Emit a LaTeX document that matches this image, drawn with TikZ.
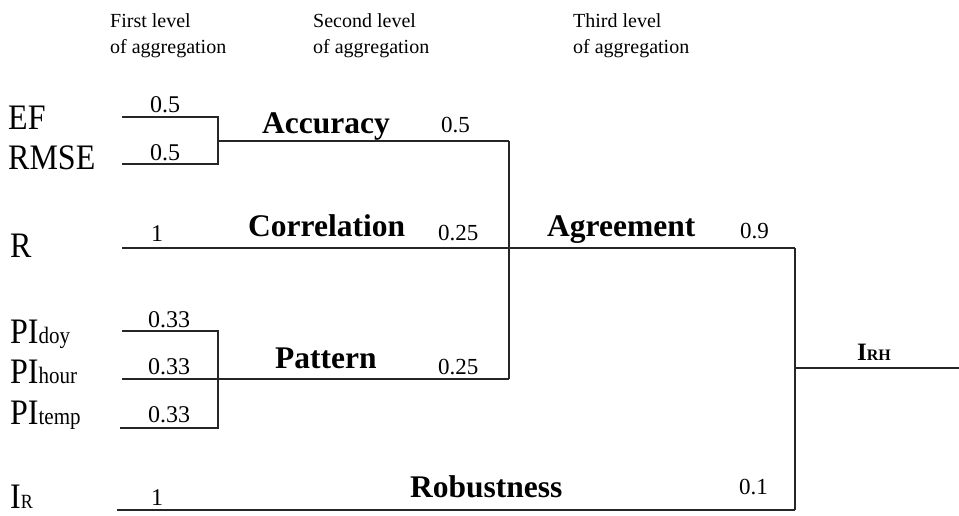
\documentclass[tikz,border=0pt]{standalone}
\usepackage{fontspec}
\setmainfont{Liberation Serif}
\newcommand\fs[1]{\fontsize{#1}{#1}\selectfont}
% left-hand indicator names are set slightly taller than wide
\newcommand\tallname[1]{\scalebox{1}[1.12]{#1}}
\newcommand\smallsub[1]{{\fs{21}#1}}
\begin{document}
\begin{tikzpicture}[x=1pt,y=-1pt,
  wire/.style={draw=black!85, line width=1.4pt},
  header/.style={anchor=base west, inner sep=0pt, font=\fs{20}},
  leaf/.style={anchor=base west, inner sep=0pt, font=\fs{32}},
  weight/.style={anchor=base, inner sep=0pt, font=\fs{24}},
  oweight/.style={anchor=base west, inner sep=0pt, font=\fs{23}},
  group/.style={anchor=base west, inner sep=0pt, font=\fs{31.5}\bfseries}]
\useasboundingbox (0,0) rectangle (959,515);

% column headings
\node[header] (h1a) at (110,27) {First level};
\node[header] (h1b) at (110,53) {of aggregation};
\node[header] (h2a) at (313,27) {Second level};
\node[header] (h2b) at (313,53) {of aggregation};
\node[header] (h3a) at (573,27) {Third level};
\node[header] (h3b) at (573,53) {of aggregation};

% indicators
\node[leaf] (ef)    at (8,129)   {\tallname{EF}};
\node[leaf] (rmse)  at (8,169)   {\tallname{RMSE}};
\node[leaf] (r)     at (10,257)  {\tallname{R}};
\node[leaf] (pidoy) at (10,343)  {\tallname{PI\smallsub{doy}}};
\node[leaf] (pihr)  at (10,383)  {\tallname{PI\smallsub{hour}}};
\node[leaf] (pitmp) at (10,424)  {\tallname{PI\smallsub{temp}}};
\node[leaf] (ir)    at (10,508)  {\tallname{I{\fs{18}R}}};

% junction points of the aggregation tree
\coordinate (efA)   at (122,117);
\coordinate (efB)   at (218,117);
\coordinate (rmA)   at (122,164);
\coordinate (rmB)   at (218,164);
\coordinate (accA)  at (218,141);
\coordinate (accB)  at (509,141);
\coordinate (rA)    at (122,248);
\coordinate (agB)   at (795,248);
\coordinate (p1A)   at (122,331);
\coordinate (p1B)   at (218,331);
\coordinate (p2A)   at (122,379);
\coordinate (patB)  at (509,379);
\coordinate (p3A)   at (120,428);
\coordinate (p3B)   at (218,428);
\coordinate (irA)   at (117,510);
\coordinate (irB)   at (795,510);
\coordinate (fJ)    at (795,368);
\coordinate (fEnd)  at (959,368);

% first level
\draw[wire] (efA) -- (efB) -- (rmB) -- (rmA);
\draw[wire] (accA) -- (accB);
\draw[wire] (p1A) -- (p1B) -- (p3B) -- (p3A);
\draw[wire] (p2A) -- (patB);
% second level
\draw[wire] (accB) -- (patB);
\draw[wire] (rA) -- (agB);
% third level
\draw[wire] (irA) -- (irB);
\draw[wire] (agB) -- (irB);
\draw[wire] (fJ) -- (fEnd);

% first-level weights
\node[weight] (w1) at (165,112) {0.5};
\node[weight] (w2) at (165,160) {0.5};
\node[weight] (w3) at (157,241) {1};
\node[weight] (w4) at (169,327) {0.33};
\node[weight] (w5) at (169,374) {0.33};
\node[weight] (w6) at (169,422) {0.33};
\node[weight] (w7) at (157,505) {1};

% aggregated groups
\node[group] (acc)  at (262,133) {Accuracy};
\node[group] (cor)  at (248,236) {Correlation};
\node[group] (pat)  at (275,368) {Pattern};
\node[group] (agr)  at (547,236) {Agreement};
\node[group] (rob)  at (410,497) {Robustness};

% second- and third-level weights
\node[oweight] (wa) at (441,132) {0.5};
\node[oweight] (wc) at (438,240) {0.25};
\node[oweight] (wp) at (438,374) {0.25};
\node[oweight] (wg) at (740,238) {0.9};
\node[oweight] (wr) at (739,494) {0.1};

% final index
\node[anchor=base west, inner sep=0pt] (irh) at (857,360)
  {\fs{25}\bfseries I{\fs{16}\bfseries RH}};
\end{tikzpicture}
\end{document}
